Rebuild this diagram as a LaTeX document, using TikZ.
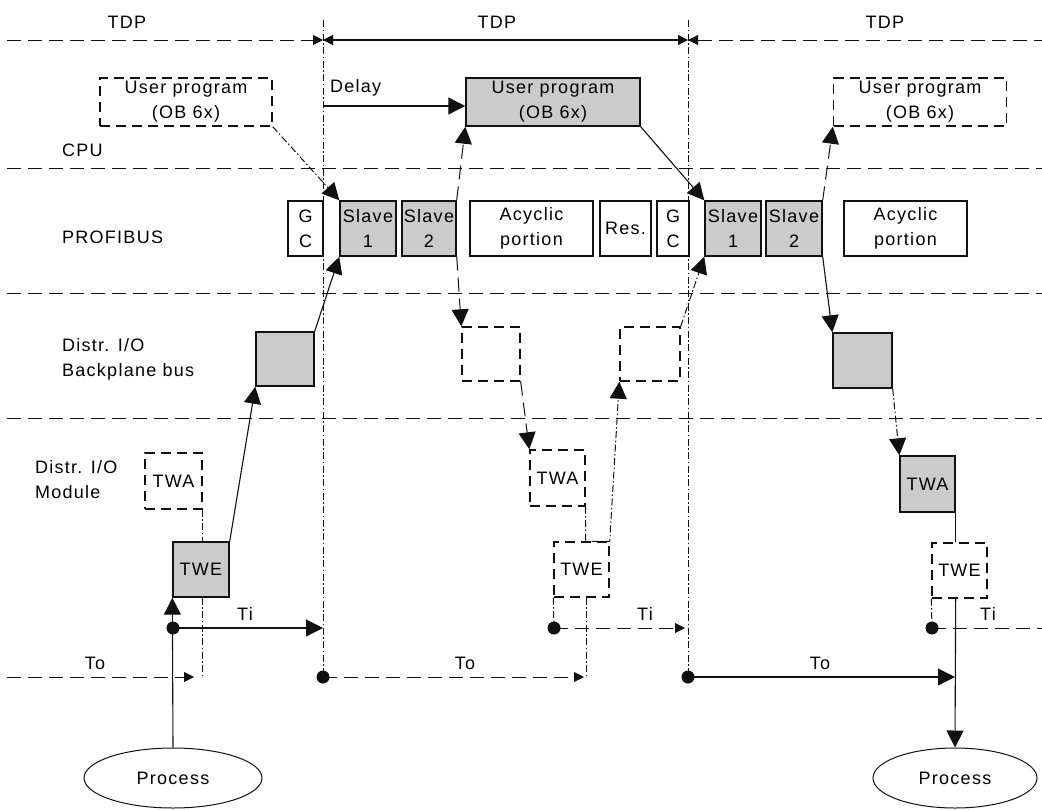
\documentclass[tikz,border=0pt]{standalone}
\usepackage{fontspec}
\setmainfont{Liberation Sans}[LetterSpace=7]
\usepackage{tikz}
\usetikzlibrary{positioning,calc,arrows.meta,shapes.geometric}
\definecolor{Busy}{HTML}{CBCBCB}
\definecolor{Dark}{HTML}{111111}

\tikzset{
	lane/.style={draw=Dark, dash pattern=on 14pt off 7pt, line width=1pt},
	dashdot/.style={draw=Dark, dash pattern=on 7pt off 2.5pt on 1.5pt off 2.5pt, line width=1pt},
	plain/.style={draw=Dark, line width=1.1pt},
	blk/.style={draw=Dark, line width=1.4pt, inner sep=0pt, align=center, font=\fontsize{18}{25}\selectfont},
	busy/.style={blk, fill=Busy},
	idle/.style={blk, dash pattern=on 10pt off 6pt},
	bighead/.style={-{Triangle[length=17pt,width=17pt]}},
	smallhead/.style={-{Triangle[length=10pt,width=10pt]}},
	junction/.style={circle, fill=Dark, inner sep=0pt, minimum size=13pt},
	lbl/.style={font=\fontsize{18}{25}\selectfont, align=left, inner sep=0pt}
}

\begin{document}
\begin{tikzpicture}[x=1pt,y=-1pt]
			\useasboundingbox (0,0) rectangle (1042,809);
			\path[fill=white] (0,0) rectangle (1042,809);
			
			\foreach \y in {168,293,418}
				\draw[lane] (7,\y) -- (1042,\y);
			
			\node[lbl] (tdpL) at (127,22) {TDP};
			\node[lbl] (tdpM) at (497,22) {TDP};
			\node[lbl] (tdpR) at (885,22) {TDP};
			\coordinate (tdp0) at (7,40);
			\coordinate (tdpA) at (323,40);
			\coordinate (tdpB) at (688,40);
			\coordinate (tdp1) at (1042,40);
			\draw[lane, smallhead] (tdp0) -- (tdpA);
			\draw[plain, {Triangle[length=10pt,width=10pt]}-{Triangle[length=10pt,width=10pt]}] (tdpA) -- (tdpB);
			\draw[lane, {Triangle[length=10pt,width=10pt]}-] (tdpB) -- (tdp1);
			
			\node[lbl, anchor=west] (cpu) at (62,150) {CPU};
			\node[lbl, anchor=west] (profibus) at (62,237) {PROFIBUS};
			\node[lbl, anchor=west] (backplane) at (62,359) {Distr. I/O\\Backplane bus};
			\node[lbl, anchor=west] (module) at (35,480) {Distr. I/O\\Module};
			
			\node[idle, minimum width=172pt, minimum height=48pt] (upL) at (186,102) {User program\\(OB 6x)};
			\node[busy, minimum width=174pt, minimum height=48pt] (upM) at (553,102) {User program\\(OB 6x)};
			\node[idle, minimum width=173pt, minimum height=48pt] (upR) at (920,102) {User program\\(OB 6x)};
			
			\node[blk, minimum width=35pt, minimum height=55pt] (gcA) at (305.5,228.5) {G\\C};
			\node[busy, minimum width=56pt, minimum height=55pt] (slA1) at (368,228.5) {Slave\\1};
			\node[busy, minimum width=54pt, minimum height=55pt] (slA2) at (429,228.5) {Slave\\2};
			\node[blk, minimum width=123pt, minimum height=55pt] (acA) at (531.5,228.5) {Acyclic\\portion};
			\node[blk, minimum width=51pt, minimum height=55pt] (res) at (625.5,228.5) {Res.};
			\node[blk, minimum width=32pt, minimum height=55pt] (gcB) at (673,228.5) {G\\C};
			\node[busy, minimum width=56pt, minimum height=55pt] (slB1) at (733,228.5) {Slave\\1};
			\node[busy, minimum width=56pt, minimum height=55pt] (slB2) at (794,228.5) {Slave\\2};
			\node[blk, minimum width=123pt, minimum height=55pt] (acB) at (905.5,228.5) {Acyclic\\portion};
			
			\node[busy, minimum width=58pt, minimum height=54pt] (bpA) at (285,359) {};
			\node[idle, minimum width=58pt, minimum height=54pt] (bpB) at (491,354) {};
			\node[idle, minimum width=60pt, minimum height=54pt] (bpC) at (650,354) {};
			\node[busy, minimum width=59pt, minimum height=55pt] (bpD) at (862.5,360.5) {};
			
			\node[idle, minimum width=57pt, minimum height=56pt] (twaA) at (173.5,481) {TWA};
			\node[busy, minimum width=56pt, minimum height=55pt] (tweA) at (201,569.5) {TWE};
			\node[idle, minimum width=55pt, minimum height=56pt] (twaB) at (557.5,478) {TWA};
			\node[idle, minimum width=55pt, minimum height=55pt] (tweB) at (581.5,569.5) {TWE};
			\node[busy, minimum width=55pt, minimum height=56pt] (twaC) at (927.5,484) {TWA};
			\node[idle, minimum width=55pt, minimum height=55pt] (tweC) at (959.5,570.5) {TWE};
			
			\node[ellipse, draw=Dark, line width=1pt, minimum width=178pt, minimum height=60pt, font=\fontsize{18}{25}\selectfont] (procA) at (173,778) {Process};
			\node[ellipse, draw=Dark, line width=1pt, minimum width=164pt, minimum height=60pt, font=\fontsize{18}{25}\selectfont] (procB) at (955,778) {Process};
			
			\node[junction] (iA) at (173,628) {};
			\node[junction] (oA) at (323,677) {};
			\node[junction] (iB) at (554,628) {};
			\node[junction] (oB) at (688,677) {};
			\node[junction] (iC) at (932,628) {};
			
			\coordinate (cA) at (323,20);
			\coordinate (cB) at (688,20);
			\draw[dashdot] (cA) -- (oA.center);
			\draw[dashdot] (cB) -- (oB.center);
			
			\node[lbl, anchor=west] (delay) at (330,88) {Delay};
			\coordinate (dl) at (323,106);
			\draw[plain, bighead] (dl) -- (dl -| upM.west);
			
			\draw[dashdot, bighead] (upL.south east) -- (slA1.north west);
			\draw[plain, bighead] (upM.south east) -- (slB1.north west);
			\draw[lane, bighead] (slA2.north east) -- (upM.south west);
			\draw[lane, bighead] (slB2.north east) -- (upR.south west);
			
			\draw[plain, bighead] (tweA.north east) -- (bpA.south west);
			\draw[plain, bighead] (bpA.north east) -- (slA1.south west);
			\draw[lane, bighead] (slA2.south east) -- (bpB.north west);
			\draw[lane, bighead] (bpB.south east) -- (twaB.north west);
			\draw[dashdot, bighead] (twaB.south east) -- (twaB.south east |- tweB.north) -- (tweB.north east) -- (bpC.south west);
			\draw[dashdot, bighead] (bpC.north east) -- (slB1.south west);
			\draw[plain, bighead] (slB2.south east) -- (bpD.north west);
			\draw[dashdot, bighead] (bpD.south east) -- (twaC.north west);
			
			\coordinate (dA) at (202,677);
			\coordinate (dB) at (586,677);
			\coordinate (toA) at (194,677);
			\coordinate (toB) at (584,677);
			\coordinate (toC) at (955,677);
			\coordinate (to0) at (7,677);
			\coordinate (tiA) at (323,628);
			\coordinate (tiB) at (685,628);
			\coordinate (ti1) at (1042,628);
			
			\draw[dashdot] (twaA.south east) -- (twaA.south east |- tweA.north);
			\draw[dashdot] (tweA.south -| dA) -- (dA);
			\draw[plain, bighead] (procA.north) -- (tweA.south west);
			\draw[plain, bighead] (iA.center) -- (tiA);
			\draw[lane, smallhead] (to0) -- (toA);
			
			\draw[dashdot] (tweB.south west) -- (iB.center);
			\draw[dashdot] (tweB.south -| dB) -- (dB);
			\draw[lane, smallhead] (iB.center) -- (tiB);
			\draw[lane, smallhead] (oA.center) -- (toB);
			
			\draw[plain] (twaC.south east) -- (twaC.south east |- tweC.north);
			\draw[plain, bighead] (twaC.south east |- tweC.south) -- (procB.north);
			\draw[dashdot] (tweC.south west) -- (iC.center);
			\draw[lane] (iC.center) -- (ti1);
			\draw[plain, bighead] (oB.center) -- (toC);
			
			\node[lbl] (tiLA) at (245,614) {Ti};
			\node[lbl] (tiLB) at (645,614) {Ti};
			\node[lbl] (tiLC) at (988,614) {Ti};
			\node[lbl] (toLA) at (95,663) {To};
			\node[lbl] (toLB) at (465,663) {To};
			\node[lbl] (toLC) at (820,663) {To};
\end{tikzpicture}
\end{document}
